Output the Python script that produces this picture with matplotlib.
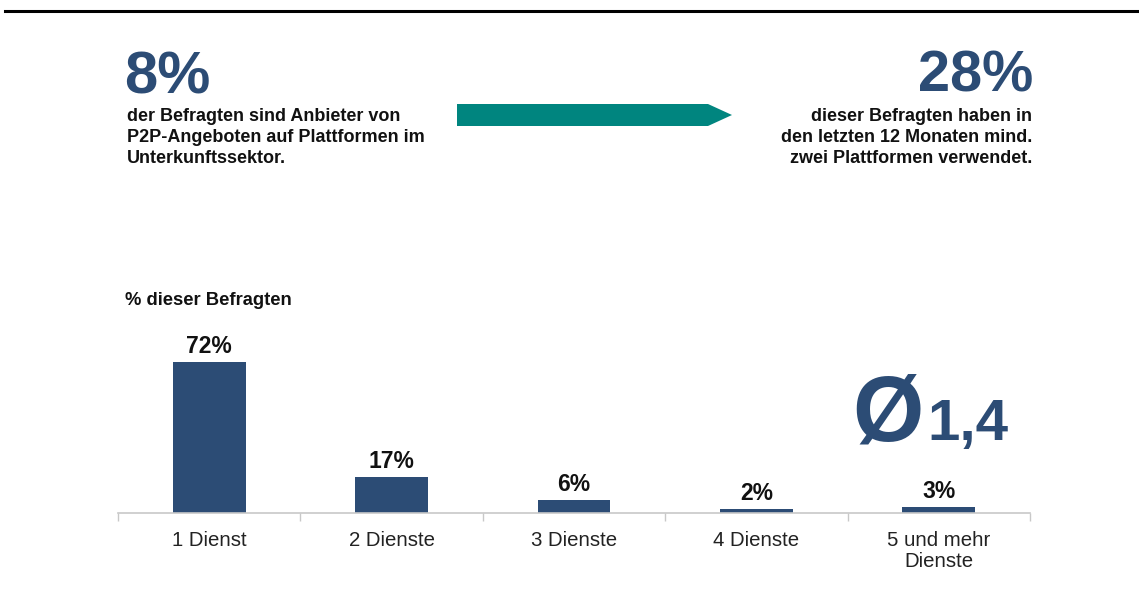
import matplotlib.pyplot as plt
from matplotlib.patches import Polygon
from matplotlib.lines import Line2D

plt.rcParams['font.family'] = ['Liberation Sans', 'DejaVu Sans']

# data
categories = ["1 Dienst", "2 Dienste", "3 Dienste", "4 Dienste", "5 und mehr\nDienste"]
shares = [72, 17, 6, 2, 3]
value_labels = ["72%", "17%", "6%", "2%", "3%"]

blue = "#2c4c75"
teal = "#00857f"

W, H = 1139, 597
fig = plt.figure(figsize=(W / 100, H / 100), dpi=100)

def fx(px):
    return px / W

def fy(py):
    return 1 - py / H

# top rule
fig.add_artist(Line2D([fx(5), 1], [fy(11), fy(11)], color="black", lw=2.2))

# headline numbers
fig.text(fx(124), fy(93), "8%", fontsize=43, fontweight="bold", color=blue, va="baseline")
fig.text(fx(127), fy(108), "der Befragten sind Anbieter von\nP2P-Angeboten auf Plattformen im\nUnterkunftssektor.",
         fontsize=13, fontweight="bold", color="#111111", va="top", linespacing=1.3)
fig.text(fx(1033), fy(91), "28%", fontsize=41.5, fontweight="bold", color=blue, ha="right", va="baseline")
fig.text(fx(1032), fy(108), "dieser Befragten haben in\nden letzten 12 Monaten mind.\nzwei Plattformen verwendet.",
         fontsize=13, fontweight="bold", color="#111111", va="top", ha="right", linespacing=1.3,
         multialignment="right")

# arrow
arrow = Polygon([[fx(457), fy(104)], [fx(708), fy(104)], [fx(732), fy(115)],
                 [fx(708), fy(126)], [fx(457), fy(126)]],
                closed=True, transform=fig.transFigure, color=teal, lw=0)
fig.add_artist(arrow)

# bar chart
ax_left, ax_right = 118, 1030
ax_bottom = 513
ymax = 80
px_per_pct = 2.1
ax_top = ax_bottom - ymax * px_per_pct
ax = fig.add_axes([fx(ax_left), fy(ax_bottom), fx(ax_right - ax_left), (ax_bottom - ax_top) / H])

x = range(len(categories))
ax.bar(x, shares, width=0.4, color=blue)
for xi, v, lab in zip(x, shares, value_labels):
    ax.text(xi, v + 4.3, lab, ha="center", va="baseline", fontsize=16.5, fontweight="bold", color="#111111")

ax.set_xlim(-0.5, len(categories) - 0.5)
ax.set_ylim(0, ymax)
ax.set_yticks([])
ax.set_xticks([i - 0.5 for i in range(len(categories) + 1)], minor=False)
ax.set_xticklabels([])
ax.tick_params(axis="x", length=6, color="#c8c8c8", width=1, direction="out")
ax.set_xticks(list(x), minor=True)
ax.set_xticklabels(categories, minor=True, fontsize=14.7, color="#222222", linespacing=1.15)
ax.tick_params(axis="x", which="minor", length=0, pad=13)
for s in ["top", "left", "right"]:
    ax.spines[s].set_visible(False)
ax.spines["bottom"].set_color("#c8c8c8")
ax.spines["bottom"].set_linewidth(1.2)

fig.text(fx(125), fy(305), "% dieser Befragten", fontsize=13.2, fontweight="bold", color="#111111", va="baseline")

# average
fig.text(fx(852), fy(440), "Ø", fontsize=66, fontweight="bold", color=blue, va="baseline")
fig.text(fx(927), fy(440), "1,4", fontsize=42, fontweight="bold", color=blue, va="baseline")

fig.savefig("out.png", dpi=100, facecolor="white")
